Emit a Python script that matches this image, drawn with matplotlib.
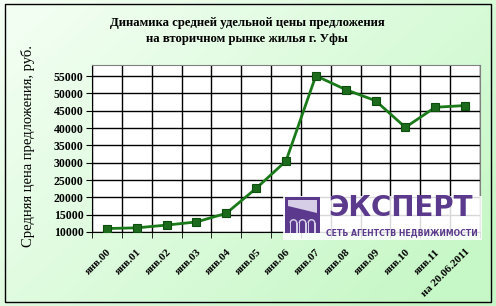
import numpy as np
import matplotlib
matplotlib.use("Agg")
import matplotlib.pyplot as plt
from matplotlib.patches import Rectangle, Polygon, Wedge

# data
labels = ['янв.00', 'янв.01', 'янв.02', 'янв.03', 'янв.04', 'янв.05', 'янв.06',
          'янв.07', 'янв.08', 'янв.09', 'янв.10', 'янв.11', 'на 20.06.2011']
prices = [11000, 11200, 12000, 12900, 15400, 22600, 30500,
          55100, 51100, 47900, 40200, 46000, 46500]
yticks = list(range(10000, 55001, 5000))

title = 'Динамика средней удельной цены предложения\nна вторичном рынке жилья г. Уфы'
ylabel = 'Средняя цена предложения, руб.'

W, H = 496, 306
plt.rcParams['font.family'] = ['Liberation Serif', 'DejaVu Serif']
fig = plt.figure(figsize=(W / 100, H / 100), dpi=100)

# light green gradient background
bg = fig.add_axes([0, 0, 1, 1], zorder=-10)
gx, gy = np.meshgrid(np.linspace(0, 1, 200), np.linspace(0, 1, 120))
t = np.clip(0.65 * gx + 0.45 * gy, 0, 1)
c0 = np.array([0.96, 1.0, 0.96])
c1 = np.array([0.78, 0.97, 0.78])
img = c0[None, None, :] * (1 - t[..., None]) + c1[None, None, :] * t[..., None]
bg.imshow(img, aspect='auto', extent=[0, 1, 0, 1], origin='upper')
bg.axis('off')
fig.patches.append(Rectangle((5 / W, 4 / H), 486 / W, 298 / H, transform=fig.transFigure,
                             fill=False, ec='black', lw=1))

# plot area
ax = fig.add_axes([92 / W, 1 - 232 / H, 388 / W, 167 / H])
ax.set_facecolor('white')
x = np.arange(len(labels))
ax.plot(x, prices, color='#1a7a1a', lw=2, marker='s', ms=6,
        mfc='#1c6b1c', mec='#0d4d0d', mew=0.8, zorder=3)
ax.set_xlim(-0.5, len(labels) - 0.5)
ax.set_ylim(10000, 58200)
ax.set_yticks(yticks)
ax.set_yticklabels([str(v) for v in yticks], fontsize=8.5, fontweight='bold')
ax.set_xticks(x)
ax.set_xticklabels(labels, rotation=45, ha='right', rotation_mode='anchor',
                   fontsize=8, fontweight='bold')
ax.set_xticks(np.arange(-0.5, len(labels)), minor=True)
ax.tick_params(axis='x', which='major', length=0, pad=11)
ax.tick_params(axis='x', which='minor', length=4, color='black')
ax.tick_params(axis='y', length=4, color='black', pad=2)
ax.grid(True, axis='y', color='black', lw=1)
ax.grid(True, axis='x', which='minor', color='black', lw=1)
for s in ax.spines.values():
    s.set_color('#808080')
ax.spines['left'].set_color('black')
ax.spines['bottom'].set_color('black')

fig.text(247 / W, 1 - 31 / H, title, ha='center', va='center', fontsize=9.2,
         fontweight='bold', linespacing=1.45)
fig.text(28 / W, 1 - 146 / H, ylabel, ha='center', va='center', rotation=90, fontsize=10.5)

# logo
lg = fig.add_axes([283 / W, 1 - 240 / H, 199 / W, 44 / H], zorder=5)
lg.set_xlim(0, 199)
lg.set_ylim(0, 44)
lg.axis('off')
purple = '#5b3a8e'
light = '#d6cde6'
lg.add_patch(Rectangle((0, 0), 199, 44, fc='white', ec='none', alpha=0.85))
lg.add_patch(Rectangle((2, 7), 35, 36, fc=purple, ec='none'))
lg.add_patch(Polygon([(5, 40), (34, 40), (34, 27), (5, 34)], closed=True, fc=light, ec='none'))
for cx in [10.5, 19.5, 28.5]:
    lg.add_patch(Rectangle((cx - 4, 7), 8, 10, fc=light, ec='none'))
    lg.add_patch(Wedge((cx, 17), 4, 0, 180, fc=light, ec='none'))
    lg.add_patch(Rectangle((cx - 2.5, 7), 5, 10, fc=purple, ec='none'))
    lg.add_patch(Wedge((cx, 17), 2.5, 0, 180, fc=purple, ec='none'))
lg.text(118, 32, 'ЭКСПЕРТ', ha='center', va='center', fontsize=20, fontweight='bold',
        color=purple, family='DejaVu Sans')
lg.text(119, 7.5, 'СЕТЬ АГЕНТСТВ НЕДВИЖИМОСТИ', ha='center', va='center', fontsize=5.6,
        fontweight='bold', color=purple, family='DejaVu Sans')

fig.savefig('out.png', dpi=100)
